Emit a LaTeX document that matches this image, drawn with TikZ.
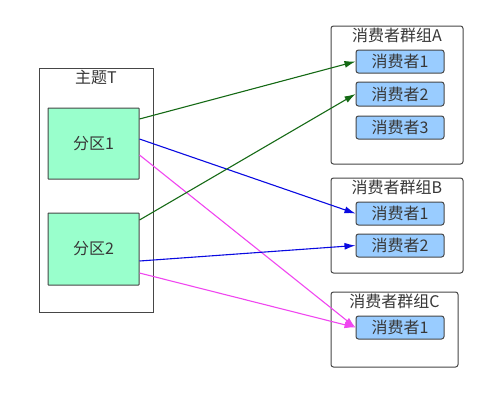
\documentclass[tikz,border=0pt]{standalone}
\usepackage{fontspec}
\setmainfont{Noto Sans CJK SC}
\usetikzlibrary{arrows.meta}
\definecolor{partfill}{RGB}{153,255,204}
\definecolor{userfill}{RGB}{153,204,255}
\definecolor{edgegray}{RGB}{70,70,70}
\definecolor{txtgray}{RGB}{55,55,55}
\definecolor{linkgreen}{RGB}{20,105,20}
\definecolor{linkblue}{RGB}{10,10,225}
\definecolor{linkpink}{RGB}{240,70,240}
\tikzset{
  box/.style={draw=edgegray,line width=1pt,inner sep=0pt},
  groupbox/.style={box,rounded corners=2.5pt,fill=white},
  partbox/.style={box,fill=partfill,rounded corners=0.5pt},
  userbox/.style={box,fill=userfill,rounded corners=2.5pt,minimum width=88pt},
  label/.style={text=txtgray,font=\fontsize{16}{18}\selectfont,inner sep=0pt},
  link/.style={line width=1.1pt,-{Latex[length=11pt,width=7pt]}}
}
\begin{document}
\begin{tikzpicture}[x=1pt,y=-1pt]
\useasboundingbox (0,0) rectangle (493,405);

% topic and partitions
\node[box,minimum width=114pt,minimum height=244pt] (topic) at (96,190) {};
\node[label] (topictitle) at (96,77) {主题T};
\node[partbox,minimum width=91pt,minimum height=71pt] (p1) at (93.5,143.5) {};
\node[label] (p1txt) at (93.5,143.5) {分区1};
\node[partbox,minimum width=91pt,minimum height=72pt] (p2) at (93.5,249) {};
\node[label] (p2txt) at (93.5,249) {分区2};

% consumer groups
\node[groupbox,minimum width=132pt,minimum height=138pt] (ga) at (397,95) {};
\node[label] (gatitle) at (397,35.5) {消费者群组A};
\node[userbox,minimum height=23pt] (a1) at (400,61.5) {};
\node[label] (a1txt) at (400,61.5) {消费者1};
\node[userbox,minimum height=24pt] (a2) at (400,94) {};
\node[label] (a2txt) at (400,94) {消费者2};
\node[userbox,minimum height=23pt] (a3) at (400,127.5) {};
\node[label] (a3txt) at (400,127.5) {消费者3};

\node[groupbox,minimum width=132pt,minimum height=95pt] (gb) at (397,225.5) {};
\node[label] (gbtitle) at (397,187.5) {消费者群组B};
\node[userbox,minimum height=23pt] (b1) at (400,213.5) {};
\node[label] (b1txt) at (400,213.5) {消费者1};
\node[userbox,minimum height=23pt] (b2) at (400,245.5) {};
\node[label] (b2txt) at (400,245.5) {消费者2};

\node[groupbox,minimum width=127pt,minimum height=75pt] (gc) at (394.5,329.5) {};
\node[label] (gctitle) at (394.5,301.5) {消费者群组C};
\node[userbox,minimum height=23pt] (c1) at (400,327.5) {};
\node[label] (c1txt) at (400,327.5) {消费者1};

% links
\draw[link,linkgreen] ([yshift=24.5pt]p1.east) -- (a1.west);
\draw[link,linkblue] ([yshift=4.5pt]p1.east) -- (b1.west);
\draw[link,linkpink] ([yshift=-11.5pt]p1.east) -- (c1.west);
\draw[link,linkgreen] ([yshift=29pt]p2.east) -- (a2.west);
\draw[link,linkblue] ([yshift=-12pt]p2.east) -- (b2.west);
\draw[link,linkpink] ([yshift=-24pt]p2.east) -- (c1.west);
\end{tikzpicture}
\end{document}
